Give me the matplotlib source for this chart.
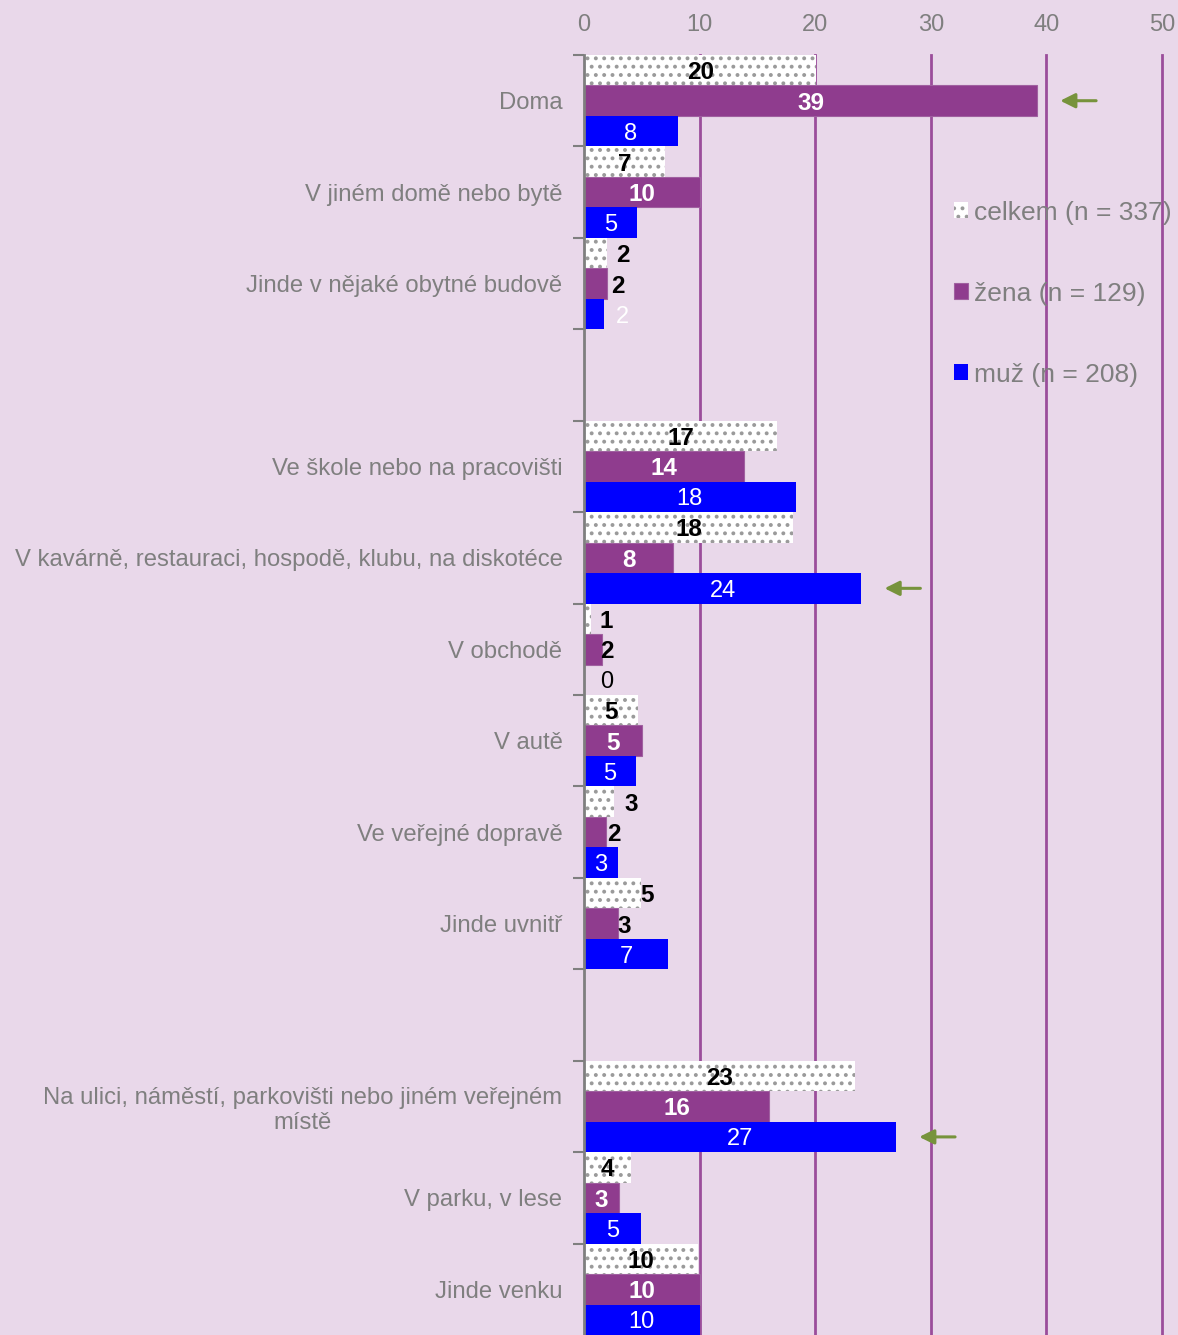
import numpy as np
import matplotlib
matplotlib.use("Agg")
import matplotlib.pyplot as plt

# data (percent), rows top to bottom, NaN = empty spacer row
categories = ["Doma", "V jiném domě nebo bytě", "Jinde v nějaké obytné budově", "",
              "Ve škole nebo na pracovišti",
              "V kavárně, restauraci, hospodě, klubu, na diskotéce",
              "V obchodě", "V autě", "Ve veřejné dopravě", "Jinde uvnitř", "",
              "Na ulici, náměstí, parkovišti nebo jiném veřejném\nmístě",
              "V parku, v lese", "Jinde venku"]
celkem = [20.1, 7.0, 2.0, np.nan, 16.7, 18.1, 0.6, 4.7, 2.6, 4.9, np.nan, 23.4, 4.1, 9.9]
zena = [39.2, 10.0, 2.0, np.nan, 13.8, 7.7, 1.6, 5.0, 1.9, 2.9, np.nan, 16.0, 3.0, 10.0]
muz = [8.1, 4.6, 1.75, np.nan, 18.3, 24.0, 0.0, 4.5, 2.95, 7.25, np.nan, 27.0, 4.9, 10.0]
series_names = ["celkem (n = 337)", "žena (n = 129)", "muž (n = 208)"]
xticks = [0, 10, 20, 30, 40, 50]

# highlighted bars (row, series)
arrows = [(0, 1), (5, 2), (11, 2)]
# labels drawn right of the bar end: (row, series) -> gap in pixels
outside = {(2, 0): 9, (6, 0): 9, (8, 0): 10, (9, 0): 0,
           (2, 1): 4, (6, 1): -2, (8, 1): 1, (9, 1): 0,
           (2, 2): 12, (6, 2): 16}

BG = "#E9D8EA"
GRAY = "#7F7F7F"
PURPLE = "#8F3C8E"
BLUE = "#0000FF"
GRID = "#9B4D9B"
NARROW = ["Liberation Sans Narrow", "Liberation Sans", "DejaVu Sans"]

plt.rcParams["font.family"] = ["Liberation Sans", "DejaVu Sans"]
plt.rcParams["hatch.linewidth"] = 1.6

fig = plt.figure(figsize=(11.78, 13.35), dpi=100, facecolor=BG)
ax = fig.add_axes([584 / 1178, 0, 578 / 1178, 1280 / 1335])
ax.set_facecolor(BG)

y = np.arange(len(categories))
h = 1 / 3
b0 = ax.barh(y - h, celkem, height=h, color="white", hatch="..", edgecolor="#9A9A9A",
             linewidth=0, label=series_names[0])
b1 = ax.barh(y, zena, height=h, color=PURPLE, edgecolor="#A060A0", linewidth=0.8,
             label=series_names[1])
b2 = ax.barh(y + h, muz, height=h, color=BLUE, linewidth=0, label=series_names[2])

ax.set_xlim(0, 50)
ax.set_ylim(len(categories) - 0.5, -0.5)

for t in xticks[1:]:
    ax.axvline(t, color=GRID, lw=2, zorder=0, clip_on=False)

ax.xaxis.tick_top()
ax.set_xticks(xticks)
ax.set_xticklabels([str(t) for t in xticks], family=NARROW, fontsize=17, color=GRAY)
ax.tick_params(axis="x", length=0, pad=14)

ax.set_yticks(np.arange(-0.5, len(categories) - 0.5, 1))
ax.set_yticklabels([])
ax.set_yticks(y, minor=True)
ax.set_yticklabels(categories, minor=True, fontsize=17.2, color=GRAY)
ax.tick_params(axis="y", which="major", length=8, width=1.5, color=GRAY, direction="out")
ax.tick_params(axis="y", which="minor", length=0, pad=15.5)
for lab in ax.get_yticklabels(minor=True):
    lab.set_multialignment("center")

for s in ["top", "right", "bottom"]:
    ax.spines[s].set_visible(False)
ax.spines["left"].set_color(GRAY)
ax.spines["left"].set_linewidth(2)
ax.spines["left"].set_zorder(5)

# data labels
styles = [dict(color="black", fontweight="bold", fontsize=17.5),
          dict(color="white", fontweight="bold", fontsize=17.5),
          dict(color="white", fontweight="normal", fontsize=17)]
for si, vals in enumerate([celkem, zena, muz]):
    for ri, v in enumerate(vals):
        if np.isnan(v):
            continue
        yy = y[ri] + (si - 1) * h
        txt = str(int(np.floor(v + 0.5)))
        st = dict(styles[si])
        if (ri, si) in outside:
            if si == 1:
                st["color"] = "black"
            if si == 2 and v == 0:
                st["color"] = "black"
            ax.annotate(txt, xy=(v, yy), xytext=(outside[(ri, si)], 0),
                        textcoords="offset pixels", ha="left", va="center_baseline", **st)
        else:
            ax.text(v / 2, yy, txt, ha="center", va="center_baseline", **st)

# green arrows next to the highlighted bars
for ri, si in arrows:
    v = [celkem, zena, muz][si][ri]
    yy = y[ri] + (si - 1) * h
    ax.annotate("", xy=(v + 2.0, yy), xytext=(v + 5.1, yy),
                arrowprops=dict(arrowstyle="-|>", color="#77933C", lw=2.2,
                                mutation_scale=22, shrinkA=0, shrinkB=0))

leg = fig.legend(handles=[b0, b1, b2], loc="upper left",
                 bbox_to_anchor=(943 / 1178, 1 - 190 / 1335), frameon=False,
                 fontsize=19, labelcolor=GRAY, handlelength=0.55, handleheight=0.55,
                 handletextpad=0.22, labelspacing=2.16, borderaxespad=0)

fig.savefig("out.png", dpi=100, facecolor=BG)
